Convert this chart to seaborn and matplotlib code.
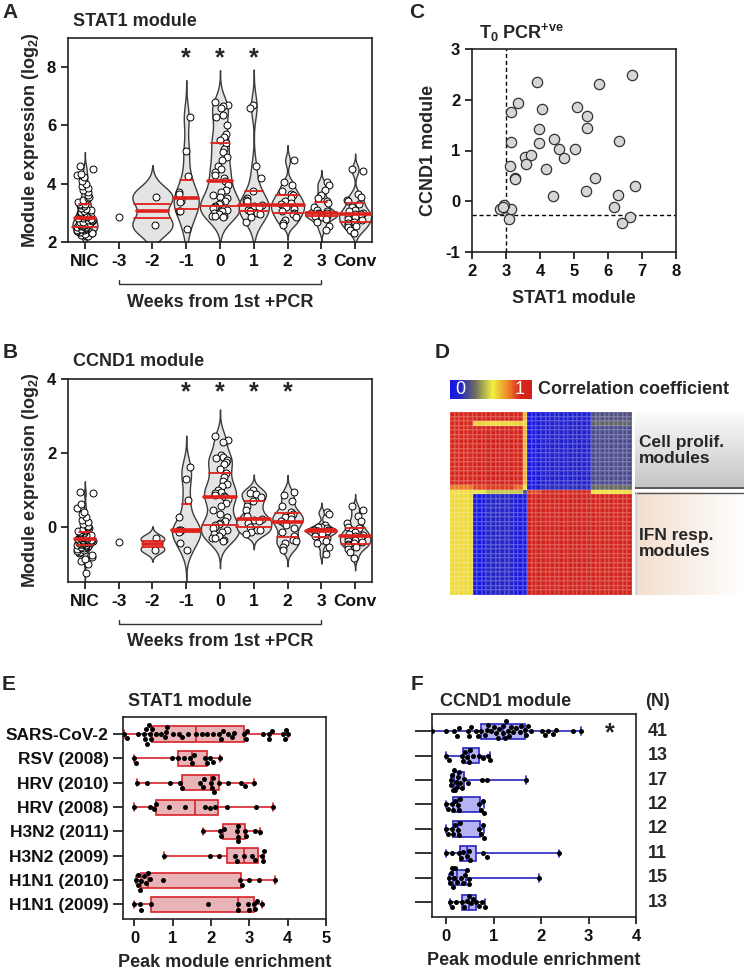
"""
Six-panel figure: STAT1 / CCND1 module expression, module correlation heatmap
and peak module enrichment across respiratory virus cohorts.
"""

import numpy as np
import pandas as pd
import matplotlib.pyplot as plt
import seaborn as sns
from matplotlib.colors import LinearSegmentedColormap

W_PX, H_PX = 744, 977

# ---------------- Panels A/B: module expression by week ----------------
WEEK_GROUPS = ["NIC", "-3", "-2", "-1", "0", "1", "2", "3", "Conv"]

STAT1_NIC = [2.20, 2.22, 2.25, 2.27, 2.30, 2.32, 2.34, 2.36, 2.38, 2.40, 2.42, 2.43, 2.45, 2.46,
             2.47, 2.48, 2.50, 2.52, 2.54, 2.55, 2.57, 2.58, 2.60, 2.62, 2.63, 2.65, 2.67, 2.68,
             2.70, 2.72, 2.74, 2.75, 2.77, 2.79, 2.81, 2.84, 2.86, 2.88, 2.90, 2.93, 2.95, 2.97,
             3.00, 3.03, 3.06, 3.09, 3.12, 3.15, 3.18, 3.22, 3.26, 3.29, 3.32, 3.36, 3.40, 3.45,
             3.50, 3.55, 3.62, 3.70, 3.78, 3.85, 3.92, 4.00, 4.10, 4.22, 4.30, 4.35, 4.50, 4.62]
STAT1_WM3 = [2.87]
STAT1_WM2 = [3.55, 2.57]
STAT1_WM1 = [6.28, 5.13, 4.27, 3.72, 3.64, 3.39, 3.37, 3.07, 3.05, 2.46]
STAT1_W0 = [6.8, 6.7, 6.65, 6.6, 6.35, 6.3, 6.0, 5.7, 5.6, 5.5, 5.4, 5.2, 5.1, 4.9, 4.8, 4.6,
            4.5, 4.4, 4.3, 4.2, 4.1, 3.95, 3.8, 3.7, 3.6, 3.55, 3.5, 3.4, 3.35, 3.3, 3.25, 3.2,
            3.15, 3.1, 3.05, 3.0, 2.95, 2.9, 2.9, 2.88, 2.85]
STAT1_W1 = [6.7, 6.6, 4.6, 4.2, 3.75, 3.5, 3.45, 3.4, 3.27, 3.25, 3.2, 3.1, 3.05, 3.0, 2.95,
            2.85, 2.7]
STAT1_W2 = [4.8, 4.05, 3.95, 3.75, 3.65, 3.6, 3.5, 3.42, 3.35, 3.3, 3.25, 3.2, 3.12, 3.05, 3.0,
            2.95, 2.85, 2.75, 2.65, 2.6]
STAT1_W3 = [4.05, 3.95, 3.8, 3.6, 3.5, 3.4, 3.35, 3.2, 3.1, 3.05, 3.0, 2.98, 2.97, 2.95, 2.93,
            2.9, 2.88, 2.85, 2.8, 2.7, 2.55, 2.4]
STAT1_CONV = [4.5, 4.45, 3.65, 3.55, 3.45, 3.4, 3.3, 3.2, 3.1, 3.05, 3.0, 2.97, 2.95, 2.9, 2.85,
              2.8, 2.75, 2.7, 2.65, 2.6, 2.55, 2.5, 2.4, 2.3]

CCND1_NIC = [-1.25, -1.0, -0.92, -0.88, -0.82, -0.78, -0.72, -0.68, -0.65, -0.62, -0.6, -0.58,
             -0.56, -0.54, -0.53, -0.52, -0.5, -0.49, -0.48, -0.47, -0.46, -0.45, -0.44, -0.43,
             -0.42, -0.41, -0.40, -0.40, -0.39, -0.38, -0.38, -0.37, -0.36, -0.36, -0.35, -0.34,
             -0.33, -0.32, -0.31, -0.30, -0.29, -0.28, -0.27, -0.26, -0.25, -0.24, -0.22, -0.21,
             -0.20, -0.18, -0.17, -0.15, -0.13, -0.11, -0.09, -0.07, -0.05, -0.03, 0.0, 0.03,
             0.07, 0.12, 0.18, 0.25, 0.33, 0.40, 0.50, 0.60, 0.90, 0.93]
CCND1_WM3 = [-0.42]
CCND1_WM2 = [-0.32, -0.62]
CCND1_WM1 = [1.62, 1.3, 0.73, 0.25, -0.08, -0.1, -0.12, -0.15, -0.45, -0.62]
CCND1_W0 = [2.45, 2.35, 2.3, 1.95, 1.9, 1.85, 1.8, 1.75, 1.7, 1.55, 1.45, 1.35, 1.25, 1.15, 1.1,
            1.0, 0.95, 0.9, 0.85, 0.82, 0.8, 0.75, 0.65, 0.55, 0.45, 0.35, 0.25, 0.15, 0.1, 0.06,
            0.05, 0.0, -0.05, -0.1, -0.15, -0.2, -0.25, -0.3, -0.32, -0.35, -0.4]
CCND1_W1 = [1.0, 0.92, 0.88, 0.8, 0.7, 0.55, 0.45, 0.3, 0.2, 0.18, 0.15, 0.1, 0.0, -0.08, -0.1,
            -0.15, -0.2]
CCND1_W2 = [0.95, 0.85, 0.7, 0.55, 0.4, 0.35, 0.3, 0.25, 0.2, 0.15, 0.1, 0.05, -0.05, -0.15,
            -0.25, -0.35, -0.4, -0.45, -0.55, -0.62]
CCND1_W3 = [0.4, 0.35, 0.05, 0.0, -0.02, -0.05, -0.08, -0.1, -0.11, -0.12, -0.12, -0.13, -0.15,
            -0.18, -0.2, -0.25, -0.3, -0.35, -0.4, -0.45, -0.55, -0.75]
CCND1_CONV = [0.55, 0.45, 0.3, 0.15, 0.1, 0.0, -0.05, -0.1, -0.15, -0.2, -0.22, -0.25, -0.27,
              -0.3, -0.35, -0.4, -0.42, -0.45, -0.48, -0.5, -0.55, -0.6, -0.7, -0.85]

STAT1_STARS = ["-1", "0", "1"]
CCND1_STARS = ["-1", "0", "1", "2"]

# ---------------- Panel C: T0 PCR+ve samples ----------------
C_STAT1 = [3.90, 6.71, 5.73, 3.34, 3.16, 4.06, 5.08, 5.37, 5.39, 3.96, 3.16, 3.97, 4.42, 4.57,
           4.72, 5.03, 6.32, 3.57, 3.73, 3.58, 3.13, 4.17, 3.25, 3.27, 5.62, 4.37, 5.34, 6.30,
           6.80, 6.17, 6.66, 6.40, 3.08, 3.16, 2.87, 2.94, 2.82, 2.90]
C_CCND1 = [2.34, 2.48, 2.32, 1.94, 1.75, 1.81, 1.86, 1.67, 1.44, 1.43, 1.17, 1.15, 1.23, 1.02,
           0.85, 1.03, 1.19, 0.87, 0.91, 0.74, 0.69, 0.63, 0.45, 0.43, 0.46, 0.11, 0.21, 0.12,
           0.31, -0.12, -0.31, -0.43, -0.35, -0.15, -0.13, -0.08, -0.16, -0.12]
C_STAT1_CUT = 3.0
C_CCND1_CUT = -0.28

# ---------------- Panel D: module correlation blocks ----------------
HM_ROW_COUNTS = [2, 1, 13, 1, 1, 22]
HM_COL_COUNTS = [5, 3, 6, 2, 1, 3, 11, 9]
HM_BLOCKS = [
    [0.86, 0.92, 0.93, 0.92, 0.62, 0.03, 0.08, 0.24],
    [0.85, 0.58, 0.56, 0.58, 0.55, 0.03, 0.10, 0.28],
    [0.86, 0.95, 0.96, 0.95, 0.62, 0.02, 0.10, 0.22],
    [0.72, 0.80, 0.82, 0.75, 0.50, 0.05, 0.14, 0.30],
    [0.55, 0.50, 0.45, 0.45, 0.20, 0.80, 0.85, 0.55],
    [0.56, 0.03, 0.12, 0.02, 0.04, 0.97, 0.96, 0.95],
]

# ---------------- Panels E/F: peak module enrichment ----------------
VIRUSES = ["SARS-CoV-2", "RSV (2008)", "HRV (2010)", "HRV (2008)",
           "H3N2 (2011)", "H3N2 (2009)", "H1N1 (2010)", "H1N1 (2009)"]
N_LABELS = ["41", "13", "17", "12", "12", "11", "15", "13"]

STAT1_PEAK = [
    [-0.28, -0.2, 0.1, 0.25, 0.28, 0.3, 0.33, 0.37, 0.4, 0.42, 0.45, 0.55, 0.7, 0.8, 0.82,
     0.85, 1.0, 1.15, 1.25, 1.4, 1.6, 1.75, 1.9, 2.05, 2.2, 2.25, 2.3, 2.45, 2.55, 2.6, 2.85,
     2.9, 2.95, 3.35, 3.5, 3.52, 3.6, 3.88, 3.92, 3.95, 4.02],
    [0.0, 0.04, 0.98, 1.13, 1.30, 1.46, 1.50, 1.56, 1.83, 1.89, 1.96, 2.05, 2.24],
    [0.07, 0.33, 0.92, 1.2, 1.24, 1.72, 1.78, 1.82, 2.0, 2.02, 2.05, 2.07, 2.2, 2.43, 2.78,
     2.89, 3.13],
    [-0.02, 0.40, 0.52, 0.56, 0.89, 1.33, 1.85, 1.98, 2.11, 2.41, 3.18, 3.61],
    [1.79, 2.22, 2.26, 2.34, 2.68, 2.69, 2.7, 2.71, 2.89, 2.92, 3.15, 3.28],
    [0.78, 1.98, 2.2, 2.63, 2.67, 2.87, 3.06, 3.15, 3.32, 3.35, 3.39],
    [0.05, 0.08, 0.1, 0.14, 0.18, 0.25, 0.3, 0.35, 0.4, 0.75, 2.75, 2.8, 2.98, 3.24, 3.66],
    [0.0, 0.14, 0.17, 0.44, 1.91, 2.69, 2.7, 2.96, 2.98, 3.11, 3.15, 3.21, 3.33],
]
CCND1_PEAK = [
    [-0.29, -0.01, 0.17, 0.22, 0.26, 0.45, 0.49, 0.52, 0.62, 0.66, 0.73, 0.81, 0.85, 0.88,
     0.95, 1.0, 1.05, 1.09, 1.12, 1.19, 1.2, 1.23, 1.26, 1.3, 1.33, 1.37, 1.41, 1.48, 1.55,
     1.58, 1.65, 1.69, 1.72, 1.79, 2.01, 2.08, 2.15, 2.24, 2.31, 2.68, 2.84],
    [-0.01, 0.05, 0.33, 0.36, 0.40, 0.44, 0.47, 0.50, 0.56, 0.69, 0.78, 0.88, 0.93],
    [0.1, 0.11, 0.13, 0.14, 0.16, 0.18, 0.2, 0.22, 0.24, 0.27, 0.3, 0.33, 0.37, 0.45, 0.75,
     0.86, 1.68],
    [-0.01, 0.03, 0.12, 0.15, 0.19, 0.24, 0.26, 0.29, 0.70, 0.73, 0.77, 0.80],
    [-0.01, 0.03, 0.12, 0.15, 0.19, 0.24, 0.26, 0.29, 0.70, 0.73, 0.77, 0.80],
    [-0.01, 0.12, 0.26, 0.31, 0.36, 0.43, 0.47, 0.5, 0.77, 0.85, 2.38],
    [0.05, 0.08, 0.1, 0.12, 0.15, 0.17, 0.19, 0.22, 0.31, 0.35, 0.40, 0.43, 0.47, 0.49, 1.96],
    [0.08, 0.12, 0.21, 0.33, 0.38, 0.43, 0.47, 0.52, 0.56, 0.63, 0.70, 0.76, 0.81],
]
CCND1_STAR_X = 3.45

RED = "#e0201b"
FS_TICK = 12
FS_LABEL = 13
FS_LETTER = 15


def px_axes(fig, x0, y0, x1, y1):
    """Axes from pixel box (top-left origin)."""
    return fig.add_axes([x0 / W_PX, 1 - y1 / H_PX, (x1 - x0) / W_PX, (y1 - y0) / H_PX])


def fig_text(fig, x, y, s, **kw):
    fig.text(x / W_PX, 1 - y / H_PX, s, **kw)


def style_box(ax):
    for sp in ax.spines.values():
        sp.set_visible(True)
        sp.set_linewidth(1.2)
        sp.set_color("#222222")
    ax.tick_params(direction="out", length=5, width=1.2, labelsize=FS_TICK, colors="#111111")


def plot_week_violins(ax, values, widths, ylim, yticks, stars, star_y, ylabel):
    df = pd.DataFrame({"group": [g for g, v in zip(WEEK_GROUPS, values) for _ in v],
                       "value": [x for v in values for x in v]})
    for g, w in zip(WEEK_GROUPS, widths):
        sub = df[df["group"] == g]
        if len(sub) < 2:
            continue
        n0 = len(ax.lines)
        sns.violinplot(data=sub, x="group", y="value", order=WEEK_GROUPS, width=w,
                       density_norm="width", inner="quart", bw_adjust=0.6, cut=3,
                       color="#e4e4e4", linecolor="#3c3c3c", linewidth=1, saturation=1, ax=ax)
        for i, ln in enumerate(ax.lines[n0:]):
            ln.set_linestyle("-")
            ln.set_color(RED)
            ln.set_linewidth(2.6 if i == 1 else 1.3)
            ln.set_zorder(4)
    np.random.seed(3)
    sns.stripplot(data=df, x="group", y="value", order=WEEK_GROUPS, jitter=0.25, size=5,
                  color="white", edgecolor="black", linewidth=0.7, ax=ax, zorder=3)
    ax.set_xlim(-0.5, len(WEEK_GROUPS) - 0.5)
    ax.set_ylim(*ylim)
    ax.set_yticks(yticks)
    ax.set_xlabel("")
    ax.set_ylabel(ylabel, fontsize=FS_LABEL, labelpad=4)
    for s in stars:
        ax.text(WEEK_GROUPS.index(s), star_y, "*", ha="center", va="center", fontsize=18)
    style_box(ax)
    ax.tick_params(axis="x", labelsize=12.5)
    trans = ax.get_xaxis_transform()
    ax.plot([1, 1, 7, 7], [-0.185, -0.205, -0.205, -0.185], transform=trans,
            clip_on=False, color="#333333", lw=1)
    ax.text(4, -0.295, "Weeks from 1st +PCR", transform=trans, ha="center", va="center",
            fontsize=FS_LABEL)


def plot_peak_boxes(ax, values, face, edge, xlim, xticks):
    df = pd.DataFrame({"virus": [g for g, v in zip(VIRUSES, values) for _ in v],
                       "value": [x for v in values for x in v]})
    sns.boxplot(data=df, x="value", y="virus", order=VIRUSES, orient="h", whis=(0, 100),
                width=0.62, color=face, linecolor=edge, linewidth=1.2, saturation=1,
                showfliers=False, ax=ax)
    sns.swarmplot(data=df, x="value", y="virus", order=VIRUSES, orient="h", color="black",
                  size=3.6, ax=ax, zorder=4)
    ax.set_xlim(*xlim)
    ax.set_xticks(xticks)
    ax.set_ylim(7.6, -0.7)
    ax.set_ylabel("")
    ax.set_xlabel("Peak module enrichment", fontsize=FS_LABEL, labelpad=6)
    style_box(ax)


def main():
    sns.set_theme(style="ticks")
    plt.rcParams["font.family"] = ["Liberation Sans", "DejaVu Sans"]
    plt.rcParams["font.weight"] = "bold"
    plt.rcParams["axes.labelweight"] = "bold"
    plt.rcParams["axes.unicode_minus"] = False
    plt.rcParams["mathtext.fontset"] = "custom"
    plt.rcParams["mathtext.rm"] = "Liberation Sans:bold"
    plt.rcParams["mathtext.bf"] = "Liberation Sans:bold"
    plt.rcParams["mathtext.default"] = "bf"

    fig = plt.figure(figsize=(W_PX / 100, H_PX / 100), dpi=100)

    # ---- A ----
    ax_a = px_axes(fig, 68, 38, 372, 242)
    plot_week_violins(ax_a,
                      [STAT1_NIC, STAT1_WM3, STAT1_WM2, STAT1_WM1, STAT1_W0, STAT1_W1,
                       STAT1_W2, STAT1_W3, STAT1_CONV],
                      [0.74, 0, 1.19, 0.74, 1.19, 0.89, 0.98, 0.95, 0.95],
                      (2, 9), [2, 4, 6, 8], STAT1_STARS, 8.3,
                      r"Module expression (log$_2$)")
    fig_text(fig, 73, 21, "STAT1 module", fontsize=FS_LABEL, va="center")
    fig_text(fig, 10, 12, "A", fontsize=FS_LETTER, ha="center", va="center")

    # ---- B ----
    ax_b = px_axes(fig, 68, 379, 372, 582)
    plot_week_violins(ax_b,
                      [CCND1_NIC, CCND1_WM3, CCND1_WM2, CCND1_WM1, CCND1_W0, CCND1_W1,
                       CCND1_W2, CCND1_W3, CCND1_CONV],
                      [0.6, 0, 0.7, 0.84, 1.13, 1.04, 0.9, 0.9, 0.9],
                      (-1.5, 4), [0, 2, 4], CCND1_STARS, 3.65,
                      r"Module expression (log$_2$)")
    fig_text(fig, 73, 362, "CCND1 module", fontsize=FS_LABEL, va="center")
    fig_text(fig, 10, 353, "B", fontsize=FS_LETTER, ha="center", va="center")

    # ---- C ----
    ax_c = px_axes(fig, 472, 49, 676, 252)
    sns.scatterplot(x=C_STAT1, y=C_CCND1, s=55, color="#d6d6d6", edgecolor="#333333",
                    linewidth=0.9, ax=ax_c, zorder=3)
    ax_c.axvline(C_STAT1_CUT, ls=(0, (3, 2)), color="black", lw=1, zorder=2)
    ax_c.axhline(C_CCND1_CUT, ls=(0, (3, 2)), color="black", lw=1, zorder=2)
    ax_c.set_xlim(2, 8)
    ax_c.set_ylim(-1, 3)
    ax_c.set_xticks(range(2, 9))
    ax_c.set_yticks(range(-1, 4))
    ax_c.set_xlabel("STAT1 module", fontsize=FS_LABEL, labelpad=8)
    ax_c.set_ylabel("CCND1 module", fontsize=FS_LABEL, labelpad=6)
    style_box(ax_c)
    fig_text(fig, 479, 33, r"T$_0$ PCR$^{+ve}$", fontsize=FS_LABEL, va="center")
    fig_text(fig, 417, 12, "C", fontsize=FS_LETTER, ha="center", va="center")

    # ---- D ----
    blocks = np.array(HM_BLOCKS)
    corr = np.repeat(np.repeat(blocks, HM_ROW_COUNTS, axis=0), HM_COL_COUNTS, axis=1)
    cmap = LinearSegmentedColormap.from_list(
        "corr", [(0.0, "#1414e6"), (0.12, "#2424c8"), (0.3, "#6a6a60"),
                 (0.52, "#f0f040"), (0.7, "#ee8a2a"), (0.85, "#d8281c"), (1.0, "#d0201a")])
    ax_d = px_axes(fig, 450, 412, 632, 595)
    cax = px_axes(fig, 450, 380, 532, 399)
    sns.heatmap(corr, ax=ax_d, cmap=cmap, vmin=0, vmax=1, cbar_ax=cax,
                cbar_kws={"orientation": "horizontal", "ticks": []},
                xticklabels=False, yticklabels=False,
                linewidths=0.3, linecolor=(1, 1, 1, 0.12))
    cax.tick_params(length=0)
    cax.set_frame_on(False)
    cax.text(0.12, 0.5, "0", transform=cax.transAxes, color="white", fontsize=13,
             fontweight="normal", ha="center", va="center")
    cax.text(0.85, 0.5, "1", transform=cax.transAxes, color="white", fontsize=13,
             fontweight="normal", ha="center", va="center")
    fig_text(fig, 538, 390, "Correlation coefficient", fontsize=FS_LABEL, va="center")
    fig_text(fig, 442, 352, "D", fontsize=FS_LETTER, ha="center", va="center")

    grey_ax = px_axes(fig, 635, 412, 744, 489)
    grey_ax.imshow(np.linspace(0, 1, 60)[:, None] * np.ones((1, 20)), aspect="auto",
                   cmap=LinearSegmentedColormap.from_list("g", ["#fbfbfb", "#c4c4c4"]),
                   extent=(0, 1, 0, 1))
    grey_ax.axhline(0.01, color="#444444", lw=1.2)
    grey_ax.axis("off")
    grey_ax.text(0.04, 0.5, "Cell prolif.\nmodules", fontsize=12.5, va="center",
                 linespacing=1.15)
    peach_ax = px_axes(fig, 635, 492, 744, 595)
    peach_ax.imshow(np.linspace(1, 0, 40)[None, :] * np.ones((30, 1)), aspect="auto",
                    cmap=LinearSegmentedColormap.from_list("p", ["#ffffff", "#f3dfcf"]),
                    extent=(0, 1, 0, 1))
    peach_ax.axhline(0.995, color="#555555", lw=1)
    peach_ax.axvline(0.005, color="#cccccc", lw=1)
    peach_ax.axis("off")
    peach_ax.text(0.04, 0.5, "IFN resp.\nmodules", fontsize=12.5, va="center",
                  linespacing=1.15)

    # ---- E ----
    ax_e = px_axes(fig, 123, 717, 326, 919)
    plot_peak_boxes(ax_e, STAT1_PEAK, "#e8b4b8", "#d8232a", (-0.3, 5), range(0, 6))
    ax_e.tick_params(axis="y", length=7, labelsize=12.5)
    ax_e.text(0.33, 1.075, "STAT1 module", transform=ax_e.transAxes, ha="center",
              va="center", fontsize=FS_LABEL)
    fig_text(fig, 9, 685, "E", fontsize=FS_LETTER, ha="center", va="center")

    # ---- F ----
    ax_f = px_axes(fig, 432, 714, 636, 917)
    plot_peak_boxes(ax_f, CCND1_PEAK, "#b4b4f4", "#2626c0", (-0.3, 4), range(0, 5))
    ax_f.tick_params(axis="y", length=12, labelleft=False)
    ax_f.text(CCND1_STAR_X, 0.1, "*", ha="center", va="center", fontsize=18)
    for i, n in enumerate(N_LABELS):
        ax_f.text(1.105, i, n, transform=ax_f.get_yaxis_transform(), ha="center",
                  va="center", fontsize=FS_LABEL)
    ax_f.text(1.105, 1.06, "(N)", transform=ax_f.transAxes, ha="center", va="center",
              fontsize=FS_LABEL)
    ax_f.text(0.36, 1.06, "CCND1 module", transform=ax_f.transAxes, ha="center",
              va="center", fontsize=FS_LABEL)
    fig_text(fig, 417, 685, "F", fontsize=FS_LETTER, ha="center", va="center")

    fig.savefig("out.png", dpi=100)
    plt.close(fig)


if __name__ == "__main__":
    main()
